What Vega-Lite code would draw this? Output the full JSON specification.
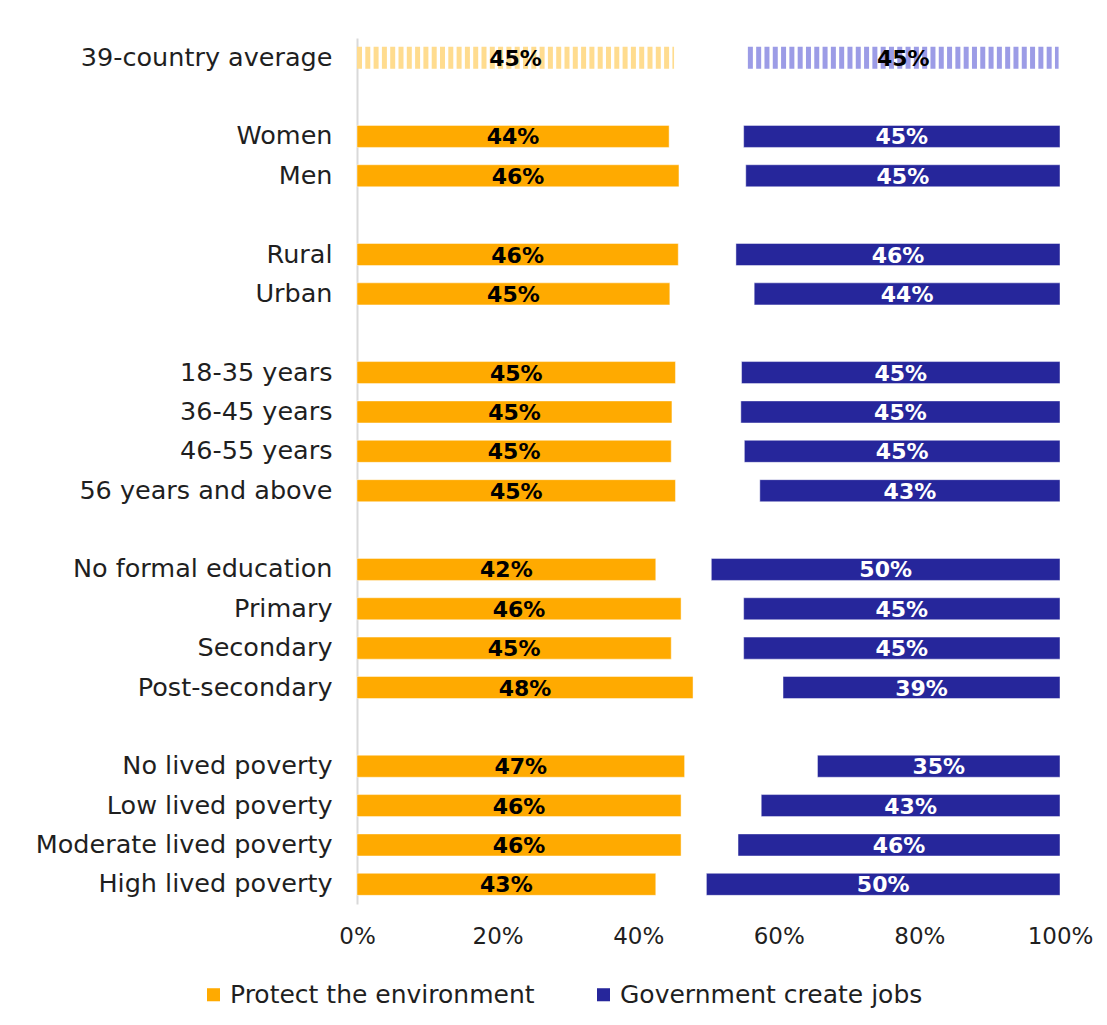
{
  "$schema": "https://vega.github.io/schema/vega-lite/v6.json",
  "width": 703,
  "height": 866,
  "autosize": "none",
  "padding": {"left": 357, "top": 38, "right": 47, "bottom": 121},
  "background": "white",
  "config": {
    "view": {"stroke": null},
    "font": "DejaVu Sans"
  },
  "data": {
    "values": [
      {"group": "39-country average", "series": "Protect the environment", "lo": 0, "hi": 45.1, "label": "45%", "avg": true},
      {"group": "39-country average", "series": "Government create jobs", "lo": 55.6, "hi": 99.8, "label": "45%", "avg": true},
      {"group": "Women", "series": "Protect the environment", "lo": 0, "hi": 44.4, "label": "44%", "avg": false},
      {"group": "Women", "series": "Government create jobs", "lo": 55.0, "hi": 100, "label": "45%", "avg": false},
      {"group": "Men", "series": "Protect the environment", "lo": 0, "hi": 45.8, "label": "46%", "avg": false},
      {"group": "Men", "series": "Government create jobs", "lo": 55.3, "hi": 100, "label": "45%", "avg": false},
      {"group": "Rural", "series": "Protect the environment", "lo": 0, "hi": 45.7, "label": "46%", "avg": false},
      {"group": "Rural", "series": "Government create jobs", "lo": 53.9, "hi": 100, "label": "46%", "avg": false},
      {"group": "Urban", "series": "Protect the environment", "lo": 0, "hi": 44.5, "label": "45%", "avg": false},
      {"group": "Urban", "series": "Government create jobs", "lo": 56.5, "hi": 100, "label": "44%", "avg": false},
      {"group": "18-35 years ", "series": "Protect the environment", "lo": 0, "hi": 45.3, "label": "45%", "avg": false},
      {"group": "18-35 years ", "series": "Government create jobs", "lo": 54.7, "hi": 100, "label": "45%", "avg": false},
      {"group": "36-45 years", "series": "Protect the environment", "lo": 0, "hi": 44.8, "label": "45%", "avg": false},
      {"group": "36-45 years", "series": "Government create jobs", "lo": 54.6, "hi": 100, "label": "45%", "avg": false},
      {"group": "46-55 years", "series": "Protect the environment", "lo": 0, "hi": 44.7, "label": "45%", "avg": false},
      {"group": "46-55 years", "series": "Government create jobs", "lo": 55.1, "hi": 100, "label": "45%", "avg": false},
      {"group": "56 years and above", "series": "Protect the environment", "lo": 0, "hi": 45.3, "label": "45%", "avg": false},
      {"group": "56 years and above", "series": "Government create jobs", "lo": 57.3, "hi": 100, "label": "43%", "avg": false},
      {"group": "No formal education", "series": "Protect the environment", "lo": 0, "hi": 42.5, "label": "42%", "avg": false},
      {"group": "No formal education", "series": "Government create jobs", "lo": 50.4, "hi": 100, "label": "50%", "avg": false},
      {"group": "Primary", "series": "Protect the environment", "lo": 0, "hi": 46.1, "label": "46%", "avg": false},
      {"group": "Primary", "series": "Government create jobs", "lo": 55.0, "hi": 100, "label": "45%", "avg": false},
      {"group": "Secondary", "series": "Protect the environment", "lo": 0, "hi": 44.7, "label": "45%", "avg": false},
      {"group": "Secondary", "series": "Government create jobs", "lo": 55.0, "hi": 100, "label": "45%", "avg": false},
      {"group": "Post-secondary", "series": "Protect the environment", "lo": 0, "hi": 47.8, "label": "48%", "avg": false},
      {"group": "Post-secondary", "series": "Government create jobs", "lo": 60.6, "hi": 100, "label": "39%", "avg": false},
      {"group": "No lived poverty", "series": "Protect the environment", "lo": 0, "hi": 46.6, "label": "47%", "avg": false},
      {"group": "No lived poverty", "series": "Government create jobs", "lo": 65.5, "hi": 100, "label": "35%", "avg": false},
      {"group": "Low lived poverty", "series": "Protect the environment", "lo": 0, "hi": 46.1, "label": "46%", "avg": false},
      {"group": "Low lived poverty", "series": "Government create jobs", "lo": 57.5, "hi": 100, "label": "43%", "avg": false},
      {"group": "Moderate lived poverty", "series": "Protect the environment", "lo": 0, "hi": 46.1, "label": "46%", "avg": false},
      {"group": "Moderate lived poverty", "series": "Government create jobs", "lo": 54.2, "hi": 100, "label": "46%", "avg": false},
      {"group": "High lived poverty", "series": "Protect the environment", "lo": 0, "hi": 42.5, "label": "43%", "avg": false},
      {"group": "High lived poverty", "series": "Government create jobs", "lo": 49.7, "hi": 100, "label": "50%", "avg": false}
    ]
  },
  "encoding": {
    "y": {
      "field": "group",
      "type": "nominal",
      "sort": null,
      "scale": {
        "domain": ["39-country average", "_sp1", "Women", "Men", "_sp2", "Rural", "Urban", "_sp3", "18-35 years ", "36-45 years", "46-55 years", "56 years and above", "_sp4", "No formal education", "Primary", "Secondary", "Post-secondary", "_sp5", "No lived poverty", "Low lived poverty", "Moderate lived poverty", "High lived poverty"],
        "paddingInner": 0.44,
        "paddingOuter": 0.22
      },
      "axis": {
        "title": null,
        "ticks": false,
        "labelPadding": 25,
        "labelFontSize": 25.5,
        "labelFont": "DejaVu Sans",
        "labelColor": "#1f1f1f",
        "labelLimit": 0,
        "domainColor": "#d9d9d9",
        "domainWidth": 2,
        "labelExpr": "indexof(datum.value, '_sp') === 0 ? '' : datum.value"
      }
    }
  },
  "layer": [
    {
      "transform": [{"filter": "!datum.avg"}],
      "mark": {"type": "bar", "stroke": "white", "strokeOpacity": 0.45, "strokeWidth": 1},
      "encoding": {
        "x": {
          "field": "lo",
          "type": "quantitative",
          "scale": {"domain": [0, 100], "nice": false},
          "axis": {
            "title": null,
            "values": [0, 20, 40, 60, 80, 100],
            "labelExpr": "datum.value + '%'",
            "ticks": false,
            "domain": false,
            "grid": false,
            "labelPadding": 21,
            "labelFontSize": 23,
            "labelFont": "DejaVu Sans",
            "labelColor": "#1f1f1f",
            "labelFlush": false
          }
        },
        "x2": {"field": "hi"},
        "color": {
          "field": "series",
          "type": "nominal",
          "scale": {"domain": ["Protect the environment", "Government create jobs"], "range": ["#FFAA00", "#26269B"]},
          "legend": {
            "title": null,
            "orient": "none",
            "legendX": -156,
            "legendY": 944,
            "direction": "horizontal",
            "symbolType": "square",
            "symbolSize": 170,
            "symbolStrokeWidth": 0,
            "labelFontSize": 25,
            "labelFont": "DejaVu Sans",
            "labelColor": "#1f1f1f",
            "labelLimit": 0,
            "labelOffset": 4,
            "columnPadding": 56
          }
        }
      }
    },
    {
      "transform": [{"filter": "datum.avg && datum.series === 'Protect the environment'"}],
      "mark": {"type": "rule", "color": "#FFDC8F", "strokeWidth": 22, "strokeDash": [5, 3.3], "strokeCap": "butt"},
      "encoding": {
        "x": {"field": "lo", "type": "quantitative"},
        "x2": {"field": "hi"}
      }
    },
    {
      "transform": [{"filter": "datum.avg && datum.series === 'Government create jobs'"}],
      "mark": {"type": "rule", "color": "#9C9CE6", "strokeWidth": 22, "strokeDash": [5, 3.3], "strokeCap": "butt"},
      "encoding": {
        "x": {"field": "lo", "type": "quantitative"},
        "x2": {"field": "hi"}
      }
    },
    {
      "transform": [{"calculate": "(datum.lo + datum.hi) / 2", "as": "mid"}],
      "mark": {"type": "text", "font": "DejaVu Sans", "fontWeight": "bold", "fontSize": 22, "align": "center", "baseline": "middle", "dy": 1},
      "encoding": {
        "x": {"field": "mid", "type": "quantitative"},
        "text": {"field": "label"},
        "color": {
          "condition": {"test": "!datum.avg && datum.series === 'Government create jobs'", "value": "white"},
          "value": "black"
        }
      }
    }
  ]
}
